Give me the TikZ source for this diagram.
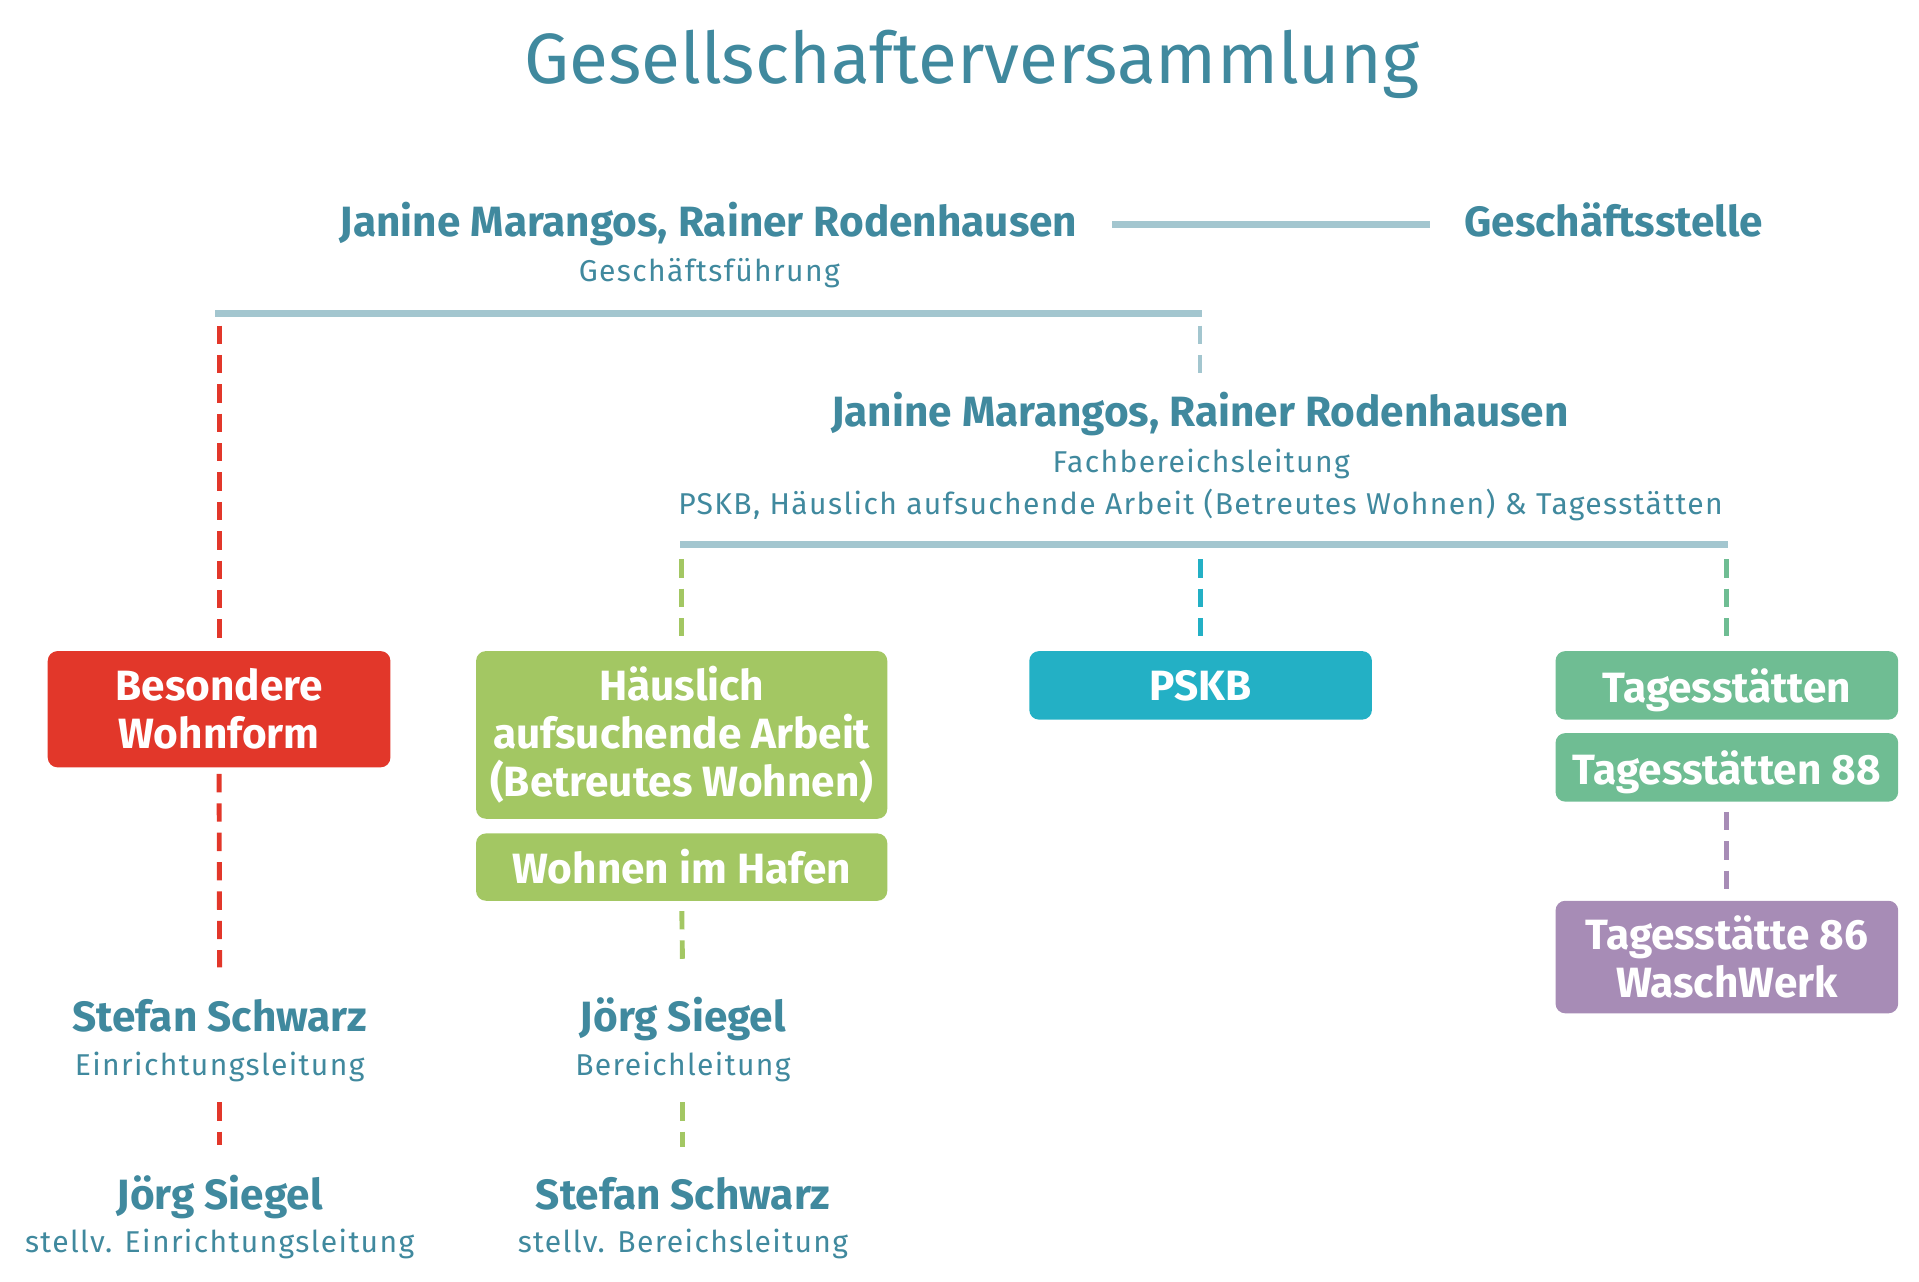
\documentclass[tikz,border=0pt]{standalone}
\usepackage{fontspec}
\setmainfont{Fira Sans}
\newfontfamily\rollefont{Fira Sans}[LetterSpace=4.5]
\begin{document}
\begin{tikzpicture}[x=0.5pt,y=-0.5pt]
            \definecolor{myteal}{RGB}{64,137,158}
            \definecolor{myline}{RGB}{163,198,207}
            \definecolor{myred}{RGB}{226,55,42}
            \definecolor{mygreen}{RGB}{163,199,99}
            \definecolor{mycyan}{RGB}{35,176,197}
            \definecolor{mymint}{RGB}{111,189,147}
            \definecolor{mypurple}{RGB}{167,140,182}
            \tikzstyle{titel} = [text=myteal, inner sep=0pt, anchor=base,
            font=\fontsize{29.1}{36}\selectfont]
            \tikzstyle{person} = [text=myteal, inner sep=0pt, anchor=base,
            font=\fontsize{17.3}{20}\selectfont\bfseries]
            \tikzstyle{rolle} = [text=myteal, inner sep=0pt, anchor=base,
            font=\rollefont\fontsize{12.3}{14}\selectfont]
            \tikzstyle{bereich} = [rectangle, rounded corners=4pt,
            inner sep=0pt,
            minimum width=140pt,
            text centered,
            text=white,
            align=center,
            font=\fontsize{17.3}{19.6}\selectfont\bfseries]
            \tikzstyle{linie} = [line width=3pt, myline]
            \tikzstyle{strich} = [line width=2pt, dash pattern=on 7.5pt off 4.5pt]
            \useasboundingbox (0,0) rectangle (1568,1047.5);

            \node (titel)[titel] at (794,68.4) {Gesellschafterversammlung};
            \node (gf)[person] at (579,193.4) {Janine Marangos, Rainer Rodenhausen};
            \node (gfrolle)[rolle] at (579.5,230) {Geschäftsführung};
            \node (gs)[person] at (1318.5,193.4) {Geschäftsstelle};
            \node (fb)[person] at (980.5,348.5) {Janine Marangos, Rainer Rodenhausen};
            \node (fbrolle)[rolle] at (981.5,386.2) {Fachbereichsleitung};
            \node (fbbereich)[rolle] at (981,420.8) {PSKB, Häuslich aufsuchende Arbeit (Betreutes Wohnen) \& Tagesstätten};
            \coordinate (gfL) at (176,256);
            \coordinate (gfR) at (982,256);
            \coordinate (fbL) at (556,445);
            \coordinate (fbR) at (1412,445);

            \node (bw)[bereich, fill=myred, minimum height=47.5pt] at (179,579.5) {Besondere\\Wohnform};
            \node (ha)[bereich, fill=mygreen, minimum width=168pt, minimum height=68.5pt] at (557,600.5) {Häuslich\\aufsuchende Arbeit\\(Betreutes Wohnen)};
            \node (wh)[bereich, fill=mygreen, minimum width=168pt, minimum height=27.5pt] at (557,708.5) {Wohnen im Hafen};
            \node (pskb)[bereich, fill=mycyan, minimum height=28pt] at (981,560) {PSKB};
            \node (ts)[bereich, fill=mymint, minimum height=28pt, text depth=0pt] at (1411,560) {Tagesstätten};
            \node (ts88)[bereich, fill=mymint, minimum height=28pt, text depth=0pt] at (1411,627) {Tagesstätten 88};
            \node (ts86)[bereich, fill=mypurple, minimum height=46pt] at (1411,782) {Tagesstätte 86\\WaschWerk};

            \node (bwleit)[person] at (179.5,843) {Stefan Schwarz};
            \node (bwleitrolle)[rolle] at (179.5,879) {Einrichtungsleitung};
            \node (bwstv)[person] at (179.5,988.2) {Jörg Siegel};
            \node (bwstvrolle)[rolle] at (179.5,1023.2) {stellv. Einrichtungsleitung};
            \node (haleit)[person] at (558,843) {Jörg Siegel};
            \node (haleitrolle)[rolle] at (558,879) {Bereichleitung};
            \node (hastv)[person] at (558,988.2) {Stefan Schwarz};
            \node (hastvrolle)[rolle] at (558,1023.2) {stellv. Bereichsleitung};

            \draw [linie] ([xshift=14pt]gf.east) -- ([xshift=-14pt]gf.east -| gs.west);
            \draw [linie] (gfL) -- (gfR);
            \draw [linie] (fbL) -- (fbR);
            \draw [strich, myred, shorten <=5pt, shorten >=3.5pt] (bw.north |- gfL) -- (bw.north);
            \draw [strich, myline, shorten <=5pt, shorten >=5.5pt] (fb.north |- gfR) -- (fb.north);
            \draw [strich, mygreen, shorten <=6pt, shorten >=3.5pt] (ha.north |- fbL) -- (ha.north);
            \draw [strich, mycyan, shorten <=6pt, shorten >=3.5pt] (pskb.north |- fbL) -- (pskb.north);
            \draw [strich, mymint, shorten <=6pt, shorten >=3.5pt] (ts.north |- fbL) -- (ts.north);
            \draw [strich, mypurple, shorten <=4pt, shorten >=3pt] (ts88.south) -- (ts86.north);
            \draw [strich, myred, shorten <=2.5pt, shorten >=13pt] (bw.south) -- (bwleit.north);
            \draw [strich, myred, shorten <=8pt, shorten >=12pt] (bwleitrolle.south) -- (bwstv.north);
            \draw [strich, mygreen, shorten <=4pt, shorten >=13pt] (wh.south) -- (haleit.north);
            \draw [strich, mygreen, shorten <=8pt, shorten >=12pt] (haleitrolle.south) -- (hastv.north);
        \end{tikzpicture}
\end{document}
